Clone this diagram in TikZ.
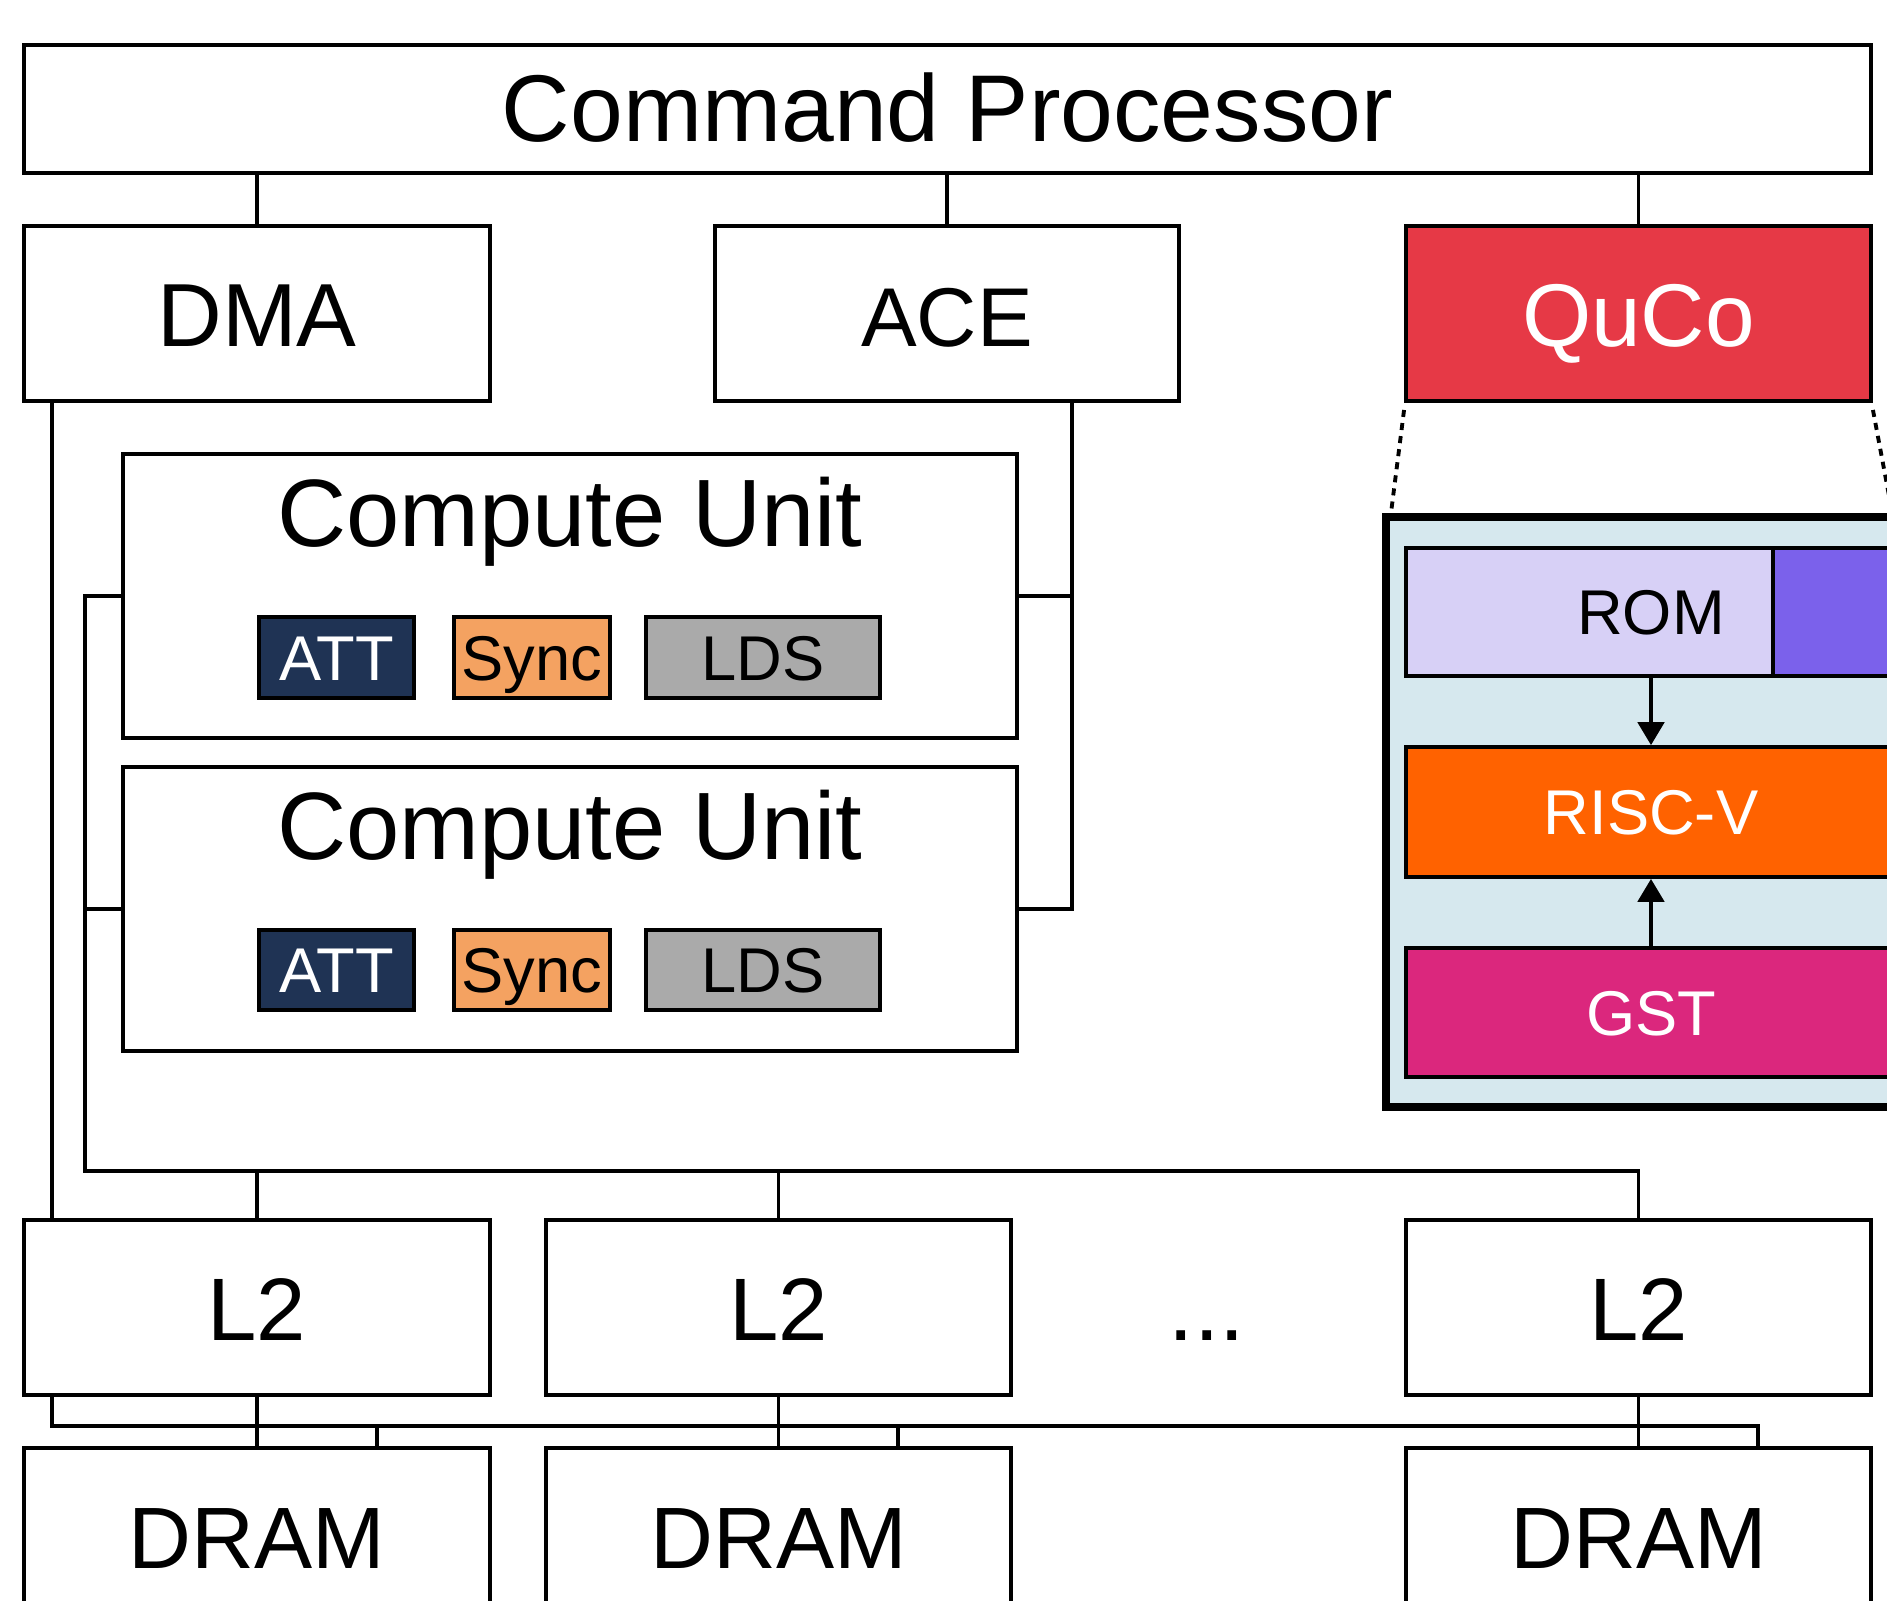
\documentclass[tikz,border=0pt]{standalone}
\usepackage{fontspec}
\setmainfont{Liberation Sans}
\usetikzlibrary{fit,arrows.meta}
\definecolor{qred}{HTML}{E63946}
\definecolor{qbg}{HTML}{D6E8EE}
\definecolor{romc}{HTML}{D7D0F6}
\definecolor{purp}{HTML}{7B61EB}
\definecolor{riscc}{HTML}{FF6200}
\definecolor{gstc}{HTML}{DB277D}
\definecolor{attc}{HTML}{1F3354}
\definecolor{syncc}{HTML}{F4A261}
\definecolor{ldsc}{HTML}{AAAAAA}
\begin{document}
\begin{tikzpicture}[x=0.02cm,y=-0.02cm,
  box/.style={draw=black, line width=2.2pt, inner sep=0pt, fill=white},
  big/.style={font=\fontsize{#1}{60}\selectfont, text height=37.2pt, text depth=0pt, inner sep=0pt},
  big/.default=52,
  small/.style={font=\fontsize{#1}{42}\selectfont, text height=25.8pt, text depth=0pt, inner sep=0pt},
  small/.default=36,
  wire/.style={line width=2pt},
  arrowhd/.style={-{Triangle[length=13pt,width=15pt]}},
  dots/.style={line width=2.2pt, dash pattern=on 4pt off 3.5pt},
]
\useasboundingbox (0,0) rectangle (1887,1600);
\clip (0,0) rectangle (1887,1600);

% top
\node[box,fit={(24,45)(1871,173)}] (cp) {};
\node[big=54] (cpt) at (cp.center) {Command Processor};
\node[box,fit={(24,226)(490,401)}] (dma) {};
\node[big=51] (dmat) at (dma.center) {DMA};
\node[box,fit={(715,226)(1179,401)}] (ace) {};
\node[big=47.5] (acet) at (ace.center) {ACE};
\node[box,fill=qred,fit={(1406,226)(1871,401)}] (quco) {};
\node[big=50.7,text=white] (qucot) at (quco.center) {QuCo};

% compute units
\node[box,fit={(123,454)(1017,738)}] (cu1) {};
\node[big=54.5] (cu1t) at (570,514) {Compute Unit};
\node[box,fill=attc,fit={(259,617)(414,698)}] (att1) {};
\node[small,text=white] at (att1.center) {ATT};
\node[box,fill=syncc,fit={(454,617)(610,698)}] (sync1) {};
\node[small] at (sync1.center) {Sync};
\node[box,fill=ldsc,fit={(646,617)(880,698)}] (lds1) {};
\node[small] at (lds1.center) {LDS};

\node[box,fit={(123,767)(1017,1051)}] (cu2) {};
\node[big=54.5] (cu2t) at (570,827) {Compute Unit};
\node[box,fill=attc,fit={(259,930)(414,1010)}] (att2) {};
\node[small,text=white] at (att2.center) {ATT};
\node[box,fill=syncc,fit={(454,930)(610,1010)}] (sync2) {};
\node[small] at (sync2.center) {Sync};
\node[box,fill=ldsc,fit={(646,930)(880,1010)}] (lds2) {};
\node[small] at (lds2.center) {LDS};

% L2 and DRAM
\node[box,fit={(24,1220)(490,1395)}] (l2a) {};
\node[big=50.5] at (l2a.center) {L2};
\node[box,fit={(546,1220)(1011,1395)}] (l2b) {};
\node[big=50.5] at (l2b.center) {L2};
\node[box,fit={(1406,1220)(1871,1395)}] (l2c) {};
\node[big=50.5] at (l2c.center) {L2};
\node[big] (ell) at (1207,1307.5) {...};
\node[box,fit={(24,1448)(490,1623)}] (drama) {};
\node[big=49.6] at (drama.center) {DRAM};
\node[box,fit={(546,1448)(1011,1623)}] (dramb) {};
\node[big=49.6] at (dramb.center) {DRAM};
\node[box,fit={(1406,1448)(1871,1623)}] (dramc) {};
\node[big=49.6] at (dramc.center) {DRAM};

% QuCo detail
\node[draw=black, line width=4.8pt, fill=qbg, inner sep=0pt, fit={(1386,517)(1920,1107)}] (detail) {};
\node[box,fill=romc,fit={(1406,548)(1896,676)}] (rom) {};
\node[small] at (rom.center) {ROM};
\node[box,fill=purp,fit={(1773,548)(1896,676)}] (mem) {};
\node[box,fill=riscc,fit={(1406,747)(1896,877)}] (risc) {};
\node[small,text=white] at (risc.center) {RISC-V};
\node[box,fill=gstc,fit={(1406,948)(1896,1077)}] (gst) {};
\node[small,text=white] at (gst.center) {GST};
\draw[wire,arrowhd] (rom.south) -- (risc.north);
\draw[wire,arrowhd] (gst.north) -- (risc.south);
\coordinate (dr) at (1893,517);
\draw[dots] ([yshift=-4pt]quco.south west) -- ([xshift=5pt,yshift=-2pt]detail.north west);
\draw[dots] ([yshift=-4pt]quco.south east) -- (dr);

% wires from command processor
\draw[wire] (dma.north) -- (dma.north |- cp.south);
\draw[wire] (ace.north) -- (ace.north |- cp.south);
\draw[wire] (quco.north) -- (quco.north |- cp.south);

% ACE to compute units
\coordinate (ar) at (1072,401);
\draw[wire] (ar |- ace.south) -- (ar |- cu2.east) -- (cu2.east);
\draw[wire] (cu1.east) -- (cu1.east -| ar);

% compute units to L2
\coordinate (lb) at (85,1171);
\draw[wire] (cu1.west) -| (lb) -| (l2c.north);
\draw[wire] (cu2.west) -- (cu2.west -| lb);
\draw[wire] (l2a.north) -- (l2a.north |- lb);
\draw[wire] (l2b.north) -- (l2b.north |- lb);

% DMA to L2
\coordinate (dl) at (52,0);
\draw[wire] (dma.south -| dl) -- (l2a.north -| dl);

% L2 to DRAM
\draw[wire] (l2a.south) -- (drama.north);
\draw[wire] (l2b.south) -- (dramb.north);
\draw[wire] (l2c.south) -- (dramc.north);
\coordinate (bb) at (52,1426);
\coordinate (be) at (1758,1426);
\coordinate (d1) at (377,1426);
\coordinate (d2) at (898,1426);
\draw[wire] (l2a.south -| bb) -- (bb) -- (be) -- (be |- dramc.north);
\draw[wire] (d1) -- (d1 |- drama.north);
\draw[wire] (d2) -- (d2 |- dramb.north);
\end{tikzpicture}
\end{document}
